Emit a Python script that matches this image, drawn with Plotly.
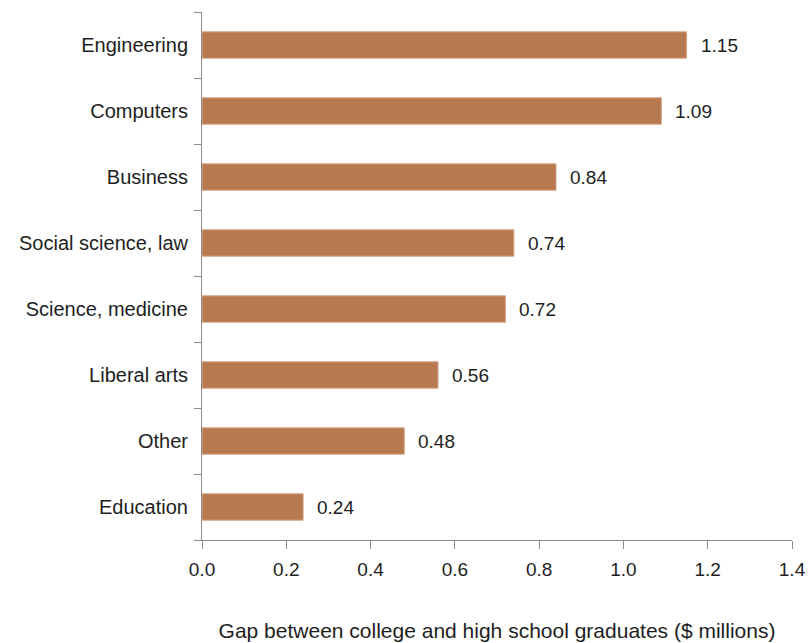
import plotly.graph_objects as go

categories = ["Engineering", "Computers", "Business", "Social science, law",
              "Science, medicine", "Liberal arts", "Other", "Education"]
values = [1.15, 1.09, 0.84, 0.74, 0.72, 0.56, 0.48, 0.24]
value_labels = ["1.15", "1.09", "0.84", "0.74", "0.72", "0.56", "0.48", "0.24"]
x_ticks = [0.0, 0.2, 0.4, 0.6, 0.8, 1.0, 1.2, 1.4]
x_tick_labels = ["0.0", "0.2", "0.4", "0.6", "0.8", "1.0", "1.2", "1.4"]
x_title = "Gap between college and high school graduates ($ millions)"

FONT = "Liberation Sans"
TEXT = "#1e1e1e"
AXIS = "#8c8c8c"
BAR = "#b87850"

fig = go.Figure()
fig.add_trace(go.Bar(
    x=values, y=categories, orientation="h",
    marker=dict(color=BAR, line=dict(color="#d8a78a", width=1)),
    width=0.4, hoverinfo="x+y",
))

for c, v, t in zip(categories, values, value_labels):
    fig.add_annotation(x=v, y=c, text=t, showarrow=False, xanchor="left",
                       xshift=12, font=dict(family=FONT, size=19, color=TEXT))

fig.update_layout(
    width=809, height=643,
    margin=dict(l=202, r=17, t=12, b=103, autoexpand=False),
    plot_bgcolor="white", paper_bgcolor="white",
    showlegend=False,
    font=dict(family=FONT, size=19, color=TEXT),
    xaxis=dict(
        range=[0, 1.4], tickvals=x_ticks, ticktext=x_tick_labels,
        showgrid=False, zeroline=False, showline=True, linecolor=AXIS, linewidth=1,
        ticks="outside", ticklen=8, tickcolor=AXIS, tickwidth=1,
        ticklabelstandoff=4,
        tickfont=dict(family=FONT, size=19, color=TEXT),
        title=dict(text=x_title, standoff=44, font=dict(family=FONT, size=21, color=TEXT)),
        automargin=False, fixedrange=True,
    ),
    yaxis=dict(
        categoryorder="array", categoryarray=categories[::-1],
        showgrid=False, zeroline=False, showline=True, linecolor=AXIS, linewidth=1,
        ticks="outside", ticklen=7, tickcolor=AXIS, tickwidth=1, tickson="boundaries",
        ticklabelstandoff=9,
        tickfont=dict(family=FONT, size=20, color=TEXT),
        automargin=False, fixedrange=True,
    ),
)

fig.write_html(
    "out.html",
    config={"displayModeBar": False},
    post_script="document.body.style.margin='0';document.body.style.overflow='hidden';",
)
